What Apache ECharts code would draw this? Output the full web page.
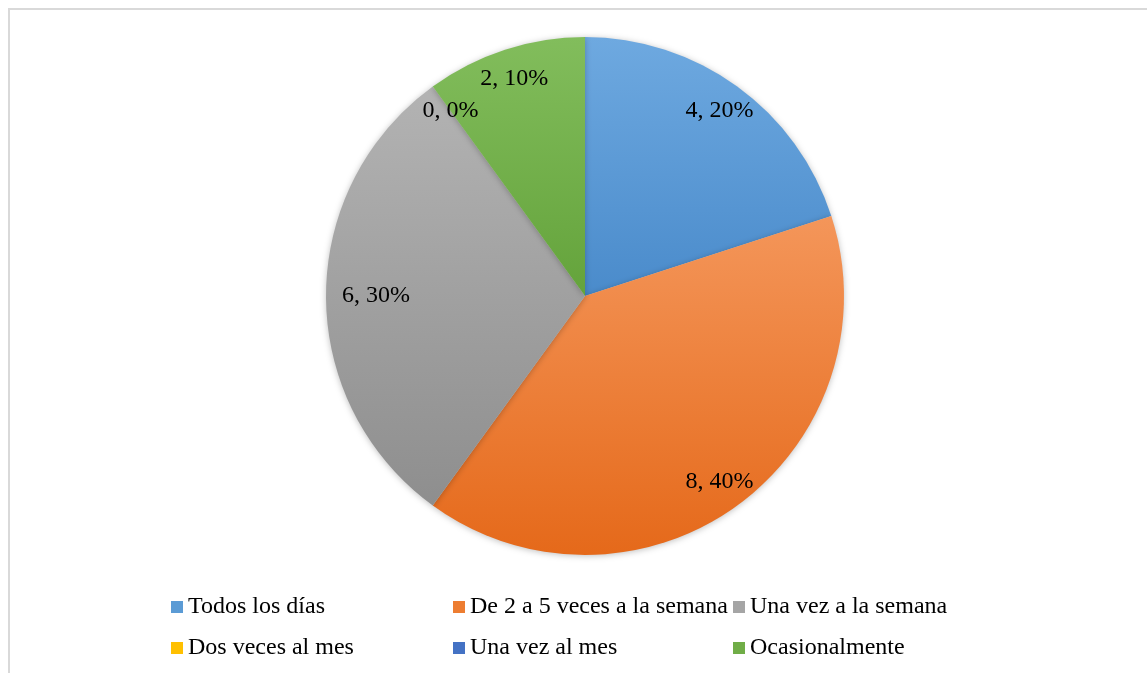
<!DOCTYPE html>
<html>
<head>
<meta charset="utf-8">
<script src="https://cdn.jsdelivr.net/npm/echarts@6/dist/echarts.min.js"></script>
<style>
  html, body { margin: 0; padding: 0; background: #fff; }
  #frame { position: absolute; left: 8px; top: 8px; width: 1150px; height: 680px;
           border: 2px solid #d9d9d9; box-sizing: border-box; }
  #chart { position: absolute; left: 0; top: 0; width: 1147px; height: 673px; }
</style>
</head>
<body>
<div id="frame"></div>
<div id="chart"></div>
<script>
const categories = ['Todos los días', 'De 2 a 5 veces a la semana', 'Una vez a la semana',
                    'Dos veces al mes', 'Una vez al mes', 'Ocasionalmente'];
const counts = [4, 8, 6, 0, 0, 2];
const percents = [20, 40, 30, 0, 0, 10];

// office palette, top/bottom shade of each slice
const topColors = ['#6ea9e0', '#f4965a', '#b3b3b3', '#ffc82a', '#5580cc', '#82bd5c'];
const bottomColors = ['#4a8bcb', '#e5691a', '#8e8e8e', '#f0b400', '#3a66b5', '#64a33b'];
const legendColors = ['#5b9bd5', '#ed7d31', '#a5a5a5', '#ffc000', '#4472c4', '#70ad47'];

const font = 'Liberation Serif, Times New Roman, serif';
const center = [585, 296];

let myChart = echarts.init(document.getElementById('chart'));

const pieData = categories.map(function (name, i) {
  return {
    name: name,
    value: counts[i],
    itemStyle: {
      color: new echarts.graphic.LinearGradient(0, 0, 0, 1, [
        { offset: 0, color: topColors[i] },
        { offset: 1, color: bottomColors[i] }
      ])
    }
  };
});

const labelData = categories.map(function (name, i) {
  let d = { name: name, value: counts[i] };
  // the gray label sits further in, like the original
  if (i === 2) d.label = { padding: [0, 0, 0, 40] };
  return d;
});

// legend: two rows of three, fixed columns (legend has 5px padding)
const legendX = [166, 448, 728];
const legendY = [590, 631];
const legends = categories.map(function (name, i) {
  return {
    data: [{ name: name, itemStyle: { color: legendColors[i] } }],
    left: legendX[i % 3],
    top: legendY[Math.floor(i / 3)],
    icon: 'rect',
    itemWidth: 12,
    itemHeight: 12,
    itemGap: 4,
    selectedMode: false,
    textStyle: { fontFamily: font, fontSize: 24, color: '#000' }
  };
});

let option = {
  animation: false,
  legend: legends,
  series: [
    {
      name: 'main',
      type: 'pie',
      center: center,
      radius: 259,
      startAngle: 90,
      clockwise: true,
      label: { show: false },
      labelLine: { show: false },
      itemStyle: { shadowBlur: 6, shadowColor: 'rgba(0,0,0,0.25)', shadowOffsetY: 1 },
      emphasis: { disabled: true },
      data: pieData
    },
    {
      name: 'labels',
      type: 'pie',
      center: center,
      radius: [194, 258],
      startAngle: 90,
      silent: true,
      itemStyle: { color: 'rgba(0,0,0,0)' },
      label: {
        show: true,
        position: 'inside',
        fontFamily: font,
        fontSize: 24,
        color: '#000',
        formatter: function (p) {
          return p.value + ', ' + percents[p.dataIndex] + '%';
        }
      },
      labelLine: { show: false },
      emphasis: { disabled: true },
      data: labelData
    }
  ]
};

myChart.setOption(option);
</script>
</body>
</html>
